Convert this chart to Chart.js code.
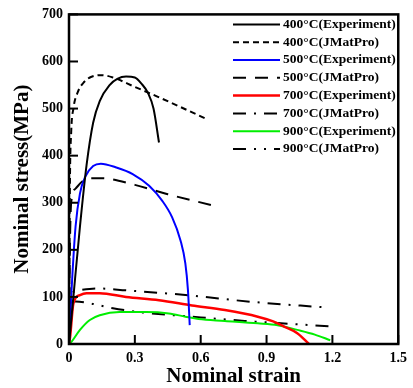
<!DOCTYPE html>
<html>
<head>
<meta charset="utf-8">
<script src="https://cdn.jsdelivr.net/npm/chart.js@4.4.1/dist/chart.umd.min.js"></script>
<style>
  html, body { margin: 0; padding: 0; background: #fff; }
  #wrap { width: 413px; height: 388px; }
</style>
</head>
<body>
<div id="wrap"><canvas id="c" width="413" height="388"></canvas></div>
<script>
'use strict';

// strain / stress readings per curve
const strain400Exp = [0, 0.02, 0.05, 0.08, 0.11, 0.14, 0.185, 0.22, 0.26, 0.3, 0.33, 0.36, 0.385, 0.41];
const stress400Exp = [0, 100, 250, 380, 470, 516, 550, 563, 568, 566, 553, 533, 500, 428];

const strain400Jmp = [0, 0.004, 0.01, 0.02, 0.04, 0.07, 0.1, 0.15, 0.2, 0.3, 0.4, 0.5, 0.63];
const stress400Jmp = [0, 330, 450, 500, 535, 557, 567, 571, 566, 546, 526, 505, 477];

const strain500Exp = [0, 0.01, 0.03, 0.05, 0.075, 0.11, 0.145, 0.215, 0.29, 0.365, 0.425, 0.47, 0.508, 0.53, 0.542, 0.55];
const stress500Exp = [0, 100, 250, 320, 356, 378, 383, 375, 361, 336, 304, 269, 220, 171, 114, 40];

const strain500Jmp = [0, 0.004, 0.01, 0.03, 0.06, 0.1, 0.15, 0.3, 0.45, 0.65];
const stress500Jmp = [0, 200, 300, 330, 345, 352, 352, 338, 318, 295];

const strain700Exp = [0, 0.005, 0.02, 0.05, 0.08, 0.14, 0.26, 0.41, 0.56, 0.71, 0.86, 0.93, 0.98, 1.04, 1.093];
const stress700Exp = [0, 15, 86, 104, 108, 108, 100, 93, 82, 72, 58, 48, 37, 23, 0];

const strain700Jmp = [0, 0.008, 0.03, 0.06, 0.125, 0.26, 0.53, 0.845, 1.16];
const stress700Jmp = [0, 100, 112, 115, 118, 114, 104, 89, 78];

const strain900Exp = [0, 0.012, 0.05, 0.095, 0.14, 0.23, 0.35, 0.455, 0.53, 0.59, 0.71, 0.86, 0.95, 1.04, 1.12, 1.19];
const stress900Exp = [0, 5, 30, 51, 61, 68, 68, 65, 58, 53, 49, 44, 40, 30, 20, 8];

const strain900Jmp = [0, 0.008, 0.03, 0.1, 0.2, 0.335, 0.56, 0.8, 0.9, 1.2];
const stress900Jmp = [0, 85, 90, 86, 76, 67, 58, 49, 46, 37];

const xTicks = [0, 0.3, 0.6, 0.9, 1.2, 1.5];
const yTicks = [0, 100, 200, 300, 400, 500, 600, 700];

const FONT = '"Liberation Serif", "Times New Roman", serif';

function pts(xs, ys) {
    return xs.map((x, i) => ({ x, y: ys[i] }));
}

function series(label, xs, ys, color, dash, width) {
    return {
        label,
        data: pts(xs, ys),
        borderColor: color,
        borderWidth: width,
        borderDash: dash,
        showLine: true,
        pointRadius: 0,
        fill: false,
        cubicInterpolationMode: 'monotone'
    };
}

const datasets = [
    series('400\u00B0C(Experiment)', strain400Exp, stress400Exp, '#000', [], 2),
    series('400\u00B0C(JMatPro)', strain400Jmp, stress400Jmp, '#000', [6, 4], 2),
    series('500\u00B0C(Experiment)', strain500Exp, stress500Exp, '#0000ff', [], 2),
    series('500\u00B0C(JMatPro)', strain500Jmp, stress500Jmp, '#000', [13, 9], 2),
    series('700\u00B0C(Experiment)', strain700Exp, stress700Exp, '#ff0000', [], 2.5),
    series('700\u00B0C(JMatPro)', strain700Jmp, stress700Jmp, '#000', [13, 8, 2, 8], 2),
    series('900\u00B0C(Experiment)', strain900Exp, stress900Exp, '#00ee00', [], 2),
    series('900\u00B0C(JMatPro)', strain900Jmp, stress900Jmp, '#000', [13, 8, 2, 8, 2, 8], 2)
];

// frame, inward ticks and the legend
const framePlugin = {
    id: 'frame',
    afterDraw(chart) {
        const { ctx, chartArea: a, scales } = chart;
        ctx.save();
        ctx.strokeStyle = '#000';
        ctx.lineWidth = 2;
        ctx.setLineDash([]);
        xTicks.forEach(v => {
            const px = scales.x.getPixelForValue(v);
            ctx.beginPath(); ctx.moveTo(px, a.bottom); ctx.lineTo(px, a.bottom - 9); ctx.stroke();
        });
        yTicks.forEach(v => {
            const py = scales.y.getPixelForValue(v);
            ctx.beginPath(); ctx.moveTo(a.left, py); ctx.lineTo(a.left + 9, py); ctx.stroke();
        });
        ctx.lineWidth = 2.5;
        ctx.strokeRect(a.left, a.top, a.right - a.left, a.bottom - a.top);

        // legend
        const x0 = a.left + 164, x1 = x0 + 47, tx = x1 + 3;
        ctx.font = 'bold 13.5px ' + FONT;
        ctx.textBaseline = 'middle';
        ctx.fillStyle = '#000';
        chart.data.datasets.forEach((d, i) => {
            const y = a.top + 10 + i * 17.8;
            ctx.strokeStyle = d.borderColor;
            ctx.lineWidth = d.borderWidth;
            ctx.setLineDash(d.borderDash);
            ctx.beginPath(); ctx.moveTo(x0, y); ctx.lineTo(x1, y); ctx.stroke();
            ctx.setLineDash([]);
            ctx.fillText(d.label, tx, y);
        });
        ctx.restore();
    }
};

new Chart(document.getElementById('c'), {
    type: 'scatter',
    data: { datasets },
    options: {
        responsive: false,
        animation: false,
        layout: { padding: { top: 13, right: 11, left: 0, bottom: 0 } },
        plugins: { legend: { display: false }, tooltip: { enabled: false } },
        scales: {
            x: {
                type: 'linear', min: 0, max: 1.5,
                afterBuildTicks: s => { s.ticks = xTicks.map(v => ({ value: v })); },
                afterFit: s => { s.height = 44; },
                grid: { display: false, drawTicks: false },
                border: { display: false },
                ticks: {
                    color: '#000', padding: 6,
                    font: { family: FONT, size: 14, weight: 'bold' },
                    callback: v => String(v)
                },
                title: {
                    display: true, text: 'Nominal strain', color: '#000',
                    padding: { top: 0, bottom: 1 },
                    font: { family: FONT, size: 21, weight: 'bold', lineHeight: 1 }
                }
            },
            y: {
                type: 'linear', min: 0, max: 700,
                afterBuildTicks: s => { s.ticks = yTicks.map(v => ({ value: v })); },
                afterFit: s => { s.width = 69; },
                grid: { display: false, drawTicks: false },
                border: { display: false },
                ticks: {
                    color: '#000', padding: 6,
                    font: { family: FONT, size: 14, weight: 'bold' }
                },
                title: {
                    display: true, text: 'Nominal stress(MPa)', color: '#000',
                    padding: { top: 12, bottom: 0 },
                    font: { family: FONT, size: 21, weight: 'bold', lineHeight: 1 }
                }
            }
        }
    },
    plugins: [framePlugin]
});
</script>
</body>
</html>
